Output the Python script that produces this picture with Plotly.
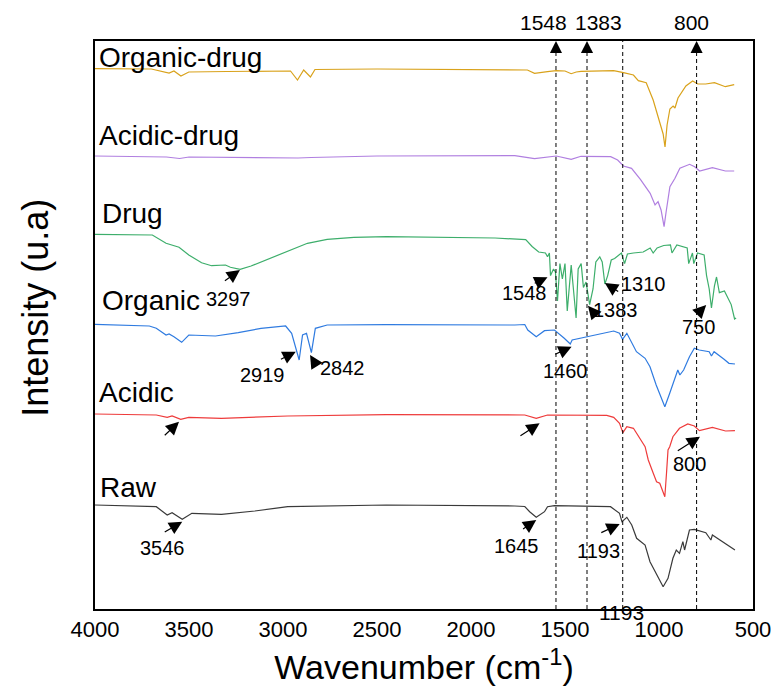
import plotly.graph_objects as go

# ---------------- data ----------------
raw_wn = [4000, 3674, 3616, 3590, 3536, 3485, 3327, 3150, 2975, 2700, 2450, 1767, 1714, 1688, 1653, 1609, 1593, 1556,
          1258, 1210, 1197, 1171, 1145, 1119, 1074, 1048, 1013, 978, 952, 926, 908, 891, 873, 864, 838,
          812, 751, 724, 716, 663, 619, 596]
raw_i = [104, 102.3, 94, 96.3, 89.7, 95.7, 94.7, 98, 102.3, 103.5, 104, 103, 102.5, 97.3, 91.7, 97.3, 102.3, 103.3,
         102.3, 95.7, 87.3, 91.7, 84, 70.7, 64, 47.3, 34, 22.3, 30.7, 50.7, 59, 55.7, 67.3, 59, 79,
         79.7, 76.3, 69, 74, 67.3, 61.7, 59]

acidic_wn = [4000, 3674, 3616, 3590, 3544, 3501, 3327, 3150, 2975, 2450, 1767, 1714, 1653, 1593, 1278, 1241,
             1210, 1192, 1171, 1136, 1074, 1057, 1031, 1013, 996, 978, 969, 960, 952, 943, 926, 891,
             847, 812, 785, 716, 646, 596]
acidic_i = [195, 194, 191.7, 193, 189.7, 191.7, 190.7, 191.5, 193, 194.3, 194, 194, 190.7, 194, 193.7, 191.7,
            185.7, 176.3, 182.3, 180.7, 162.3, 149, 136, 127.3, 125.7, 116, 112.3, 136, 159, 162.3, 172.3, 180.7,
            185, 183, 178.3, 181.7, 178, 178.3]

organic_wn = [4000, 3711, 3674, 3622, 3606, 3580, 3539, 3501, 3359, 3238, 3117, 2986, 2954, 2933, 2914,
              2896, 2875, 2849, 2828, 2765, 2450, 1767, 1714, 1698, 1653, 1609, 1556, 1504, 1472, 1462,
              1399, 1311, 1241, 1210, 1194, 1171, 1120, 1074, 1048, 1015, 989, 969, 943, 917, 900, 889,
              869, 838, 812, 786, 733, 721, 707, 654, 628, 596]
organic_i = [284.7, 283, 280.7, 274, 275, 272.3, 266.7, 274, 273, 276.3, 280.7, 283, 275.7, 260.7, 249,
             274, 275.7, 256.3, 280.7, 284, 284.3, 284, 284.5, 279, 272.3, 278.3, 279, 270.7, 265, 269,
             271.7, 275.7, 278, 275.7, 269.7, 275.7, 257.3, 250.7, 242.3, 224, 212.3, 202.3, 215.7, 229, 239, 234,
             239, 252.3, 260.7, 259, 257.3, 253, 257.3, 249.7, 245.7, 245]

drug_wn = [4000, 3695, 3622, 3553, 3501, 3433, 3380, 3306, 3280, 3228, 3170, 3080, 2975, 2870, 2765, 2623,
           2450, 1872, 1709, 1675, 1640, 1604, 1593, 1583, 1577, 1561, 1551, 1540, 1527, 1514, 1500, 1488,
           1467, 1456, 1441, 1430, 1414, 1402, 1388, 1369, 1351, 1336, 1315, 1302, 1288, 1273, 1254, 1236,
           1217, 1200, 1183, 1168, 1136, 1084, 1047, 1031, 1010, 975, 939, 931, 905, 878, 850, 842, 822,
           815, 795, 760, 747, 733, 721, 705, 694, 679, 652, 616, 598, 590]
drug_i = [374.7, 374, 365.7, 361.7, 354, 346.3, 343.3, 344, 341.7, 339.7, 343, 349.7, 358.3, 365.7, 369.7, 371.7,
          372.3, 371, 369.3, 362.5, 357, 356, 352.2, 356, 333.4, 340, 337, 308, 345.4, 330, 345.4, 298,
          344, 320, 291, 340, 345.4, 321.5, 327, 304.4, 320, 347, 352.2, 347, 325, 333.4, 349, 350.5,
          353.2, 356, 345.4, 355, 356, 357, 361, 356, 361, 363.5, 364, 356, 364, 362.5, 361, 345.4, 356,
          345.4, 356, 354, 333.4, 320, 301, 323.2, 332, 316.4, 318, 304.4, 290, 291]

acidic_drug_wn = [4000, 3620, 3550, 3500, 2920, 2850, 2500, 1767, 1662, 1593, 1546, 1467, 1415, 1257, 1220,
                  1189, 1146, 1099, 1047, 1021, 1005, 989, 973, 963, 942, 915, 889, 837, 810, 784, 716,
                  647, 600]
acidic_drug_i = [453, 452, 450.5, 452, 451, 451.5, 453, 453.3, 450.3, 452.3, 453, 449.7, 452.7, 452.3, 449,
                 443, 440.7, 429.7, 415.7, 404, 407.3, 399, 382.3, 396, 422.3, 430.7, 440.7, 444.7, 442.3, 438, 441.3,
                 438, 438]

organic_drug_wn = [4000, 3700, 3606, 3580, 3543, 3501, 3300, 3000, 2960, 2923, 2890, 2854, 2830, 2500,
                   1767, 1700, 1662, 1620, 1593, 1546, 1500, 1467, 1440, 1415, 1300, 1241, 1189, 1136,
                   1110, 1068, 1031, 1005, 989, 978, 968, 957, 942, 925, 915, 899, 857, 821, 794, 752, 705,
                   670, 647, 600]
organic_drug_i = [540.3, 540, 536, 538, 533, 537, 537.5, 538.5, 538, 529, 539, 532, 539.5, 540,
                  539.7, 539, 535.7, 537, 537.3, 538.3, 538, 535.3, 537, 537.7, 538, 538.3, 536.3, 534,
                  528.3, 526.3, 509, 491, 482, 475, 462, 484, 500, 503, 501, 511, 523, 528, 525, 525, 526.3,
                  524, 522.3, 524.3]

series_names = ["Raw", "Acidic", "Organic", "Drug", "Acidic-drug", "Organic-drug"]
series_wn = [raw_wn, acidic_wn, organic_wn, drug_wn, acidic_drug_wn, organic_drug_wn]
series_i = [raw_i, acidic_i, organic_i, drug_i, acidic_drug_i, organic_drug_i]
series_colors = ["#3a3a3a", "#EE3B3B", "#2F7BE0", "#3DAE6B", "#B07FE0", "#D9A21B"]
# name label positions (wavenumber, intensity)
name_pos = [(3985, 122), (3992, 217), (3975, 309), (3975, 396), (3992, 474), (3992, 552)]

# marked bands (dashed guide lines)
guide_wn = [1548, 1383, 1193, 800]
guide_top_labels = ["1548", "1383", "", "800"]
guide_label_wn = [1612, 1322, None, 826]

# peak arrows: (head wn, head y, tail wn, tail y)
peak_arrows = [
    (3229, 339, 3317, 327.3),
    (2932, 257.3, 3019, 249),
    (2856, 254, 2818, 242.3),
    (3553, 187.3, 3637, 172.3),
    (3536, 87.3, 3637, 76),
    (1593, 331.7, 1669, 325),
    (1378, 303.2, 1325, 291.4),
    (1288, 326, 1209, 316.6),
    (749, 304, 796, 295),
    (1465, 262.3, 1560, 254),
    (1635, 185.7, 1745, 172.3),
    (782, 172.3, 908, 157.3),
    (1653, 89, 1731, 79),
    (1209, 85, 1315, 75.7),
]
# peak labels: (text, wn, y)
peak_labels = [
    ("3297", 3291, 310), ("2919", 3107, 234), ("2842", 2686, 241), ("3546", 3643, 61),
    ("1548", 1714, 316), ("1383", 1231, 299), ("1310", 1083, 325), ("750", 790, 282),
    ("1460", 1498, 238), ("800", 836, 145), ("1645", 1756, 63), ("1193", 1320, 58),
]

FONT = "Arial, Liberation Sans, sans-serif"
Y_TOP = 568

fig = go.Figure()
for name, wn, inten, col in zip(series_names, series_wn, series_i, series_colors):
    fig.add_trace(go.Scatter(x=wn, y=inten, mode="lines", name=name,
                             line=dict(color=col, width=1.2), showlegend=False))

annotations = []
for name, (nx, ny) in zip(series_names, name_pos):
    annotations.append(dict(x=nx, y=ny, xref="x", yref="y", text=name, showarrow=False,
                            xanchor="left", yanchor="middle", font=dict(size=28, color="black", family=FONT)))

shapes = []
for g in guide_wn:
    top = Y_TOP if g == 1193 else Y_TOP - 12
    shapes.append(dict(type="line", xref="x", yref="y", x0=g, x1=g, y0=0, y1=top,
                       line=dict(color="black", width=1, dash="4px,3px")))
for g, lab, lx in zip(guide_wn, guide_top_labels, guide_label_wn):
    if not lab:
        continue
    annotations.append(dict(x=g, y=Y_TOP, ax=g, ay=Y_TOP - 13, xref="x", yref="y", axref="x", ayref="y",
                            text="", showarrow=True, arrowhead=2, arrowsize=2.2, arrowwidth=1.1,
                            arrowcolor="black", standoff=0))
    annotations.append(dict(x=lx, y=1.032, xref="x", yref="paper", text=lab, showarrow=False,
                            xanchor="center", yanchor="middle", font=dict(size=21, color="black", family=FONT)))
annotations.append(dict(x=1199, y=-0.006, xref="x", yref="paper", text="1193", showarrow=False,
                        xanchor="center", yanchor="middle", font=dict(size=21, color="black", family=FONT)))

for hx, hy, tx, ty in peak_arrows:
    annotations.append(dict(x=hx, y=hy, ax=tx, ay=ty, xref="x", yref="y", axref="x", ayref="y",
                            text="", showarrow=True, arrowhead=2, arrowsize=2.2, arrowwidth=1.2,
                            arrowcolor="black", standoff=0))
for txt, lx, ly in peak_labels:
    annotations.append(dict(x=lx, y=ly, xref="x", yref="y", text=txt, showarrow=False,
                            xanchor="center", yanchor="middle", font=dict(size=20, color="black", family=FONT)))

# y-axis title (placed like the reference, slightly above the plot centre)
annotations.append(dict(x=-0.09, y=0.53, xref="paper", yref="paper", text="Intensity (u.a)",
                        textangle=-90, showarrow=False, xanchor="center", yanchor="middle",
                        font=dict(size=36, color="black", family=FONT)))

fig.update_layout(
    width=783, height=693,
    margin=dict(l=95, r=22, t=41, b=84),
    paper_bgcolor="white", plot_bgcolor="white",
    font=dict(family=FONT, color="black"),
    annotations=annotations, shapes=shapes,
    xaxis=dict(range=[4000, 500], tickvals=[4000, 3500, 3000, 2500, 2000, 1500, 1000, 500],
               showgrid=False, zeroline=False, showline=True, linecolor="black", linewidth=2,
               mirror=True, ticks="", tickfont=dict(size=22, family=FONT, color="black"),
               title=dict(text="Wavenumber (cm<sup>-1</sup>)", font=dict(size=34, family=FONT, color="black"),
                          standoff=14)),
    yaxis=dict(range=[0, Y_TOP], showgrid=False, zeroline=False, showline=True, linecolor="black",
               linewidth=2, mirror=True, ticks="", showticklabels=False),
)

fig.write_html("out.html")
